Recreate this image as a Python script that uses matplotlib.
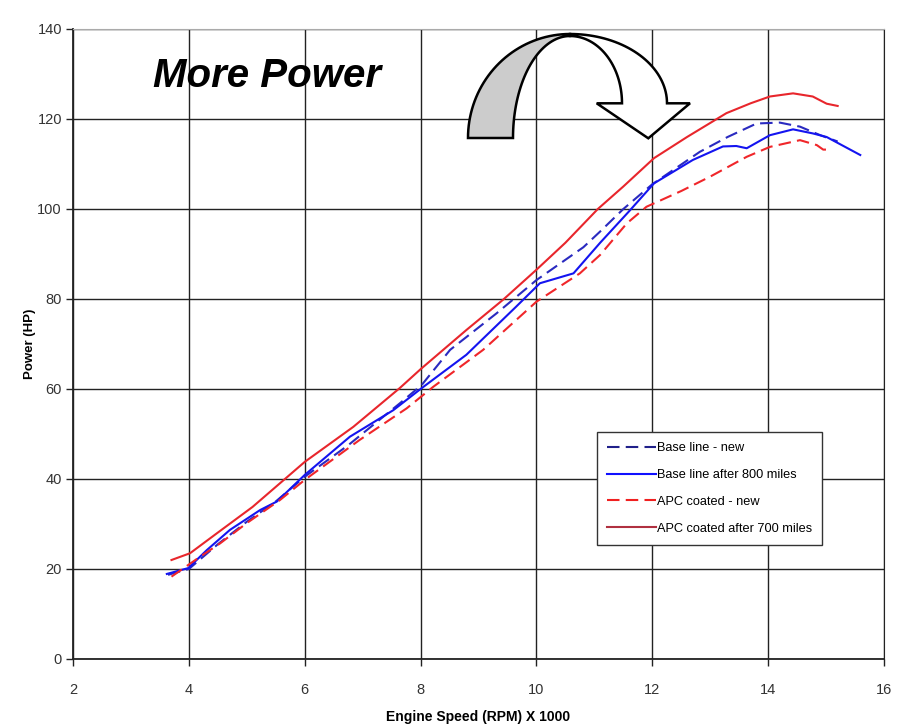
import numpy as np
import matplotlib
matplotlib.use("Agg")
import matplotlib.pyplot as plt
from matplotlib.patches import Polygon

plt.rcParams['font.family'] = ['Liberation Sans', 'DejaVu Sans']

# ---- data ----
base_new_x = [3.64, 4.0, 4.5, 5.0, 5.5, 6.0, 6.75, 7.64, 8.02, 8.51, 9.31, 10.0, 10.81, 11.1, 11.5,
              12.0, 12.82, 13.3, 13.8, 14.2, 14.55, 14.9, 15.2]
base_new_y = [18.7, 20.0, 25.5, 30.5, 35.0, 40.5, 47.5, 56.8, 60.9, 68.7, 76.8, 84.2, 91.5, 95.0, 100.0,
              105.5, 112.7, 116.0, 119.0, 119.2, 118.3, 116.4, 115.0]

base_800_x = [3.62, 3.99, 4.31, 4.71, 5.23, 5.52, 6.0, 6.78, 7.53, 8.02, 8.79, 9.65, 10.06, 10.35, 10.64,
              11.1, 11.6, 12.03, 12.7, 13.22, 13.45, 13.63, 14.03, 14.43, 14.77, 15.01, 15.3, 15.59]
base_800_y = [18.9, 20.2, 24.2, 28.7, 33.1, 35.0, 40.9, 49.4, 55.3, 60.2, 67.6, 78.3, 83.5, 84.6, 85.7,
              92.5, 99.5, 105.7, 110.9, 113.9, 114.0, 113.5, 116.4, 117.7, 116.8, 116.0, 114.0, 112.0]

apc_new_x = [3.70, 4.19, 4.54, 5.0, 5.57, 6.0, 6.95, 7.76, 8.22, 9.08, 10.0, 10.75, 11.1, 11.56, 11.9,
             12.5, 13.0, 13.63, 14.03, 14.55, 14.84, 14.95, 15.1]
apc_new_y = [18.3, 22.7, 25.7, 30.2, 35.3, 39.8, 48.7, 55.7, 60.5, 68.7, 79.4, 85.7, 89.8, 96.8, 100.5,
             104.0, 107.2, 111.6, 113.8, 115.3, 114.2, 113.2, 113.2]

apc_700_x = [3.70, 4.02, 4.48, 5.1, 6.0, 6.84, 7.64, 8.0, 8.79, 9.43, 10.0, 10.5, 11.06, 11.5, 12.03,
             12.6, 13.28, 13.7, 14.03, 14.43, 14.77, 15.01, 15.2]
apc_700_y = [22.0, 23.5, 27.9, 33.8, 43.8, 51.6, 60.2, 64.4, 73.1, 79.9, 86.5, 92.5, 100.0, 105.0, 111.3,
             116.0, 121.3, 123.5, 125.0, 125.7, 125.0, 123.4, 122.9]

labels = ['Base line - new', 'Base line after 800 miles', 'APC coated - new', 'APC coated after 700 miles']
x_ticks = [2, 4, 6, 8, 10, 12, 14, 16]
y_ticks = [0, 20, 40, 60, 80, 100, 120, 140]

# ---- figure ----
W, H = 908, 728
fig = plt.figure(figsize=(W / 100, H / 100), dpi=100)
ax = fig.add_axes([73 / W, 1 - 659 / H, (884 - 73) / W, (659 - 29) / H])

dash = (0, (6, 3))
ax.plot(base_new_x, base_new_y, color='#2a2ac0', lw=1.5, ls=dash, label=labels[0], zorder=3)
ax.plot(base_800_x, base_800_y, color='#1414f0', lw=1.5, label=labels[1], zorder=3)
ax.plot(apc_new_x, apc_new_y, color='#f0262a', lw=1.5, ls=dash, label=labels[2], zorder=3)
ax.plot(apc_700_x, apc_700_y, color='#e8262c', lw=1.5, label=labels[3], zorder=3)

ax.set_xlim(2, 16)
ax.set_ylim(0, 140)
ax.set_xticks(x_ticks)
ax.set_yticks(y_ticks)
ax.set_xticklabels([str(v) for v in x_ticks])
ax.set_yticklabels([str(v) for v in y_ticks])
ax.tick_params(axis='both', labelsize=10.5, labelcolor='#333333', color='#222222', length=5, width=1)
ax.tick_params(axis='x', pad=12)
ax.tick_params(axis='y', pad=3)
ax.grid(True, color='#222222', lw=1.0)
ax.set_axisbelow(True)
for s in ['left', 'bottom']:
    ax.spines[s].set_color('#222222')
    ax.spines[s].set_linewidth(1.3)
ax.spines['top'].set_color('#aaaaaa')
ax.spines['right'].set_color('#222222')

ax.set_xlabel('Engine Speed (RPM) X 1000', fontsize=10, fontweight='bold', labelpad=10)
ax.set_ylabel('Power (HP)', fontsize=9.5, fontweight='bold', labelpad=1)

leg = ax.legend(loc='upper left', bbox_to_anchor=(0.646, 0.360), frameon=True, fancybox=False,
                edgecolor='#333333', framealpha=1, fontsize=9.2, handlelength=3.8,
                handletextpad=0.1, labelspacing=1.15, borderpad=0.8, borderaxespad=0)
leg.get_frame().set_linewidth(1.0)
leg_colors = ['#20208a', '#1010ff', '#f02020', '#b03040']
for h, c in zip(leg.get_lines(), leg_colors):
    h.set_color(c)

ax.text(0.0986, 0.925, 'More Power', transform=ax.transAxes, fontsize=29, fontweight='bold',
        fontstyle='italic', ha='left', va='center')

# ---- curved arrow annotation (pixel geometry) ----
def to_fig(px, py):
    return np.column_stack([np.asarray(px) / W, 1 - np.asarray(py) / H])

t = np.linspace(np.pi / 2, np.pi, 40)
cx, cy = 570, 138
outer_l = (cx + 102 * np.cos(t), cy - 104 * np.sin(t))
inner_l = (cx + 57 * np.cos(t[::-1]), cy - 102 * np.sin(t[::-1]))
gx = np.concatenate([outer_l[0], inner_l[0]])
gy = np.concatenate([outer_l[1], inner_l[1]])
fig.add_artist(Polygon(to_fig(gx, gy), closed=True, transform=fig.transFigure,
                       facecolor='#cccccc', edgecolor='black', lw=1.8, zorder=5))

t2 = np.linspace(np.pi / 2, 0.0, 40)
cy2 = 103.3
outer_r = (cx + 97 * np.cos(t2), cy2 - 69.3 * np.sin(t2))
inner_r = (cx + 52 * np.cos(t2[::-1]), cy2 - 67.3 * np.sin(t2[::-1]))
wx = np.concatenate([outer_r[0], [690, 648.3, 596.7], inner_r[0]])
wy = np.concatenate([outer_r[1], [103.3, 138.3, 103.3], inner_r[1]])
fig.add_artist(Polygon(to_fig(wx, wy), closed=True, transform=fig.transFigure,
                       facecolor='white', edgecolor='black', lw=1.8, zorder=5))

fig.savefig('out.png', dpi=100)
